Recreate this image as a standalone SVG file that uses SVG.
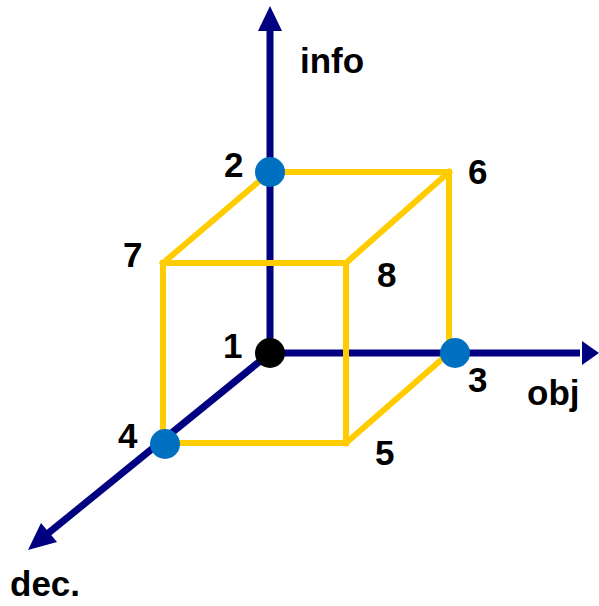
<svg xmlns="http://www.w3.org/2000/svg" width="599" height="606" viewBox="0 0 599 606">
<style>
.ax{stroke:#000080;stroke-width:7;fill:none}
.ah{fill:#000080}
.cb{stroke:#FFCC00;stroke-width:6;fill:none;stroke-linejoin:miter;stroke-linecap:square}
.t{font-family:"Liberation Sans",Arial,sans-serif;font-weight:bold;font-size:35px;fill:#000}
.dot{fill:#0070C0}
</style>
<rect width="599" height="606" fill="#fff"/>
<g id="connectors">
<line class="ax" x1="270" y1="353" x2="270" y2="28"/>
<polygon class="ah" points="270,6 258,31 282,31"/>
<line class="ax" x1="270" y1="353" x2="580" y2="353"/>
<polygon class="ah" points="599,353 582,341 582,365"/>
<line class="ax" x1="270" y1="353" x2="46" y2="535"/>
<polygon class="ah" points="28,550 41,523 57,542"/>
<polyline class="cb" points="270,172 449,172 449,353"/>
<line class="cb" x1="270" y1="172" x2="163" y2="263"/>
<line class="cb" x1="449" y1="172" x2="346" y2="263"/>
<line class="cb" x1="449" y1="353" x2="346" y2="443"/>
<polygon class="cb" points="163,263 346,263 346,443 163,443"/>
</g>
<g id="axis-info"><text class="t" x="300" y="73">info</text></g>
<g id="axis-obj"><text class="t" x="527" y="405">obj</text></g>
<g id="axis-dec"><text class="t" x="10" y="596">dec.</text></g>
<g id="n1"><circle cx="270" cy="353" r="15" fill="#000"/><text class="t" x="223" y="358">1</text></g>
<g id="n2"><circle class="dot" cx="270" cy="172" r="15"/><text class="t" x="224" y="177">2</text></g>
<g id="n3"><circle class="dot" cx="455" cy="353" r="15"/><text class="t" x="468" y="392">3</text></g>
<g id="n4"><circle class="dot" cx="165" cy="444" r="15"/><text class="t" x="118" y="448">4</text></g>
<g id="n5"><text class="t" x="375" y="465">5</text></g>
<g id="n6"><text class="t" x="468" y="184">6</text></g>
<g id="n7"><text class="t" x="123" y="267">7</text></g>
<g id="n8"><text class="t" x="377" y="287">8</text></g>
</svg>
